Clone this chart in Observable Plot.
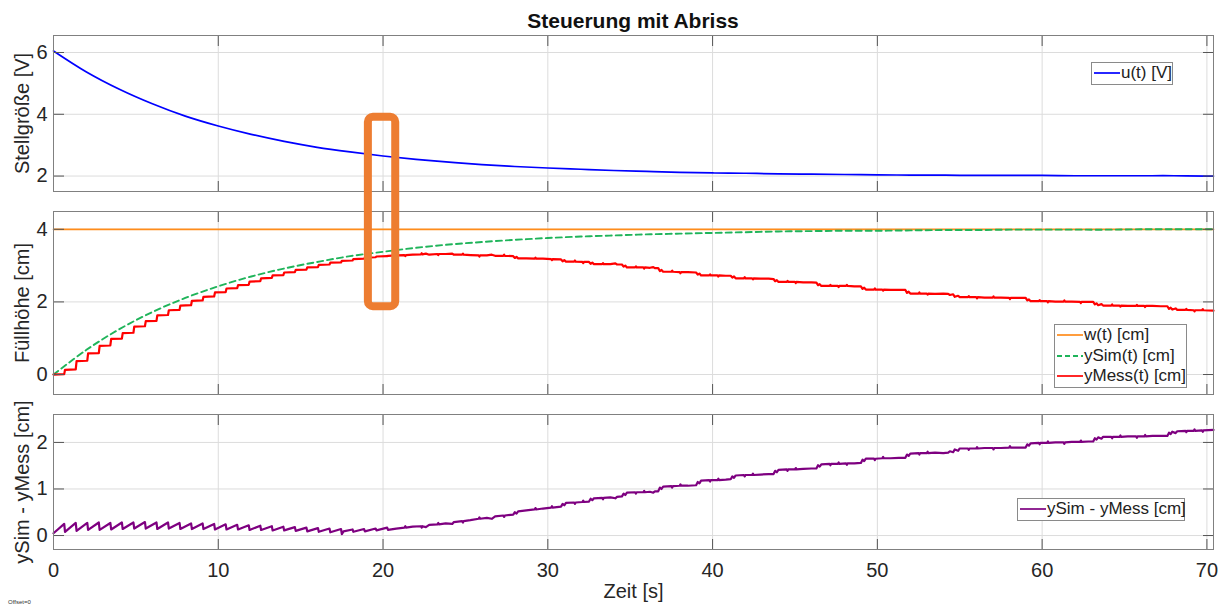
<!DOCTYPE html>
<html><head><meta charset="utf-8">
<script src="https://cdn.jsdelivr.net/npm/d3@7"></script>
<script src="https://cdn.jsdelivr.net/npm/@observablehq/plot@0.6"></script>
<style>
body{margin:0;background:#fff;font-family:"Liberation Sans",Arial,Helvetica,sans-serif;color:#262626}
#root{position:relative;width:1222px;height:608px;overflow:hidden;background:#fff}
.panel{position:absolute;left:0}
#title{position:absolute;left:53px;width:1160px;top:9px;text-align:center;font-weight:bold;font-size:21px;line-height:24px;color:#111}
#offset{position:absolute;left:8px;top:599px;font-size:6px;color:#333}
.legend{position:absolute;background:#fff;border:1px solid #8a8a8a;font-size:17px;line-height:20px;color:#222;z-index:5;box-sizing:border-box;padding:0 2px}
.legend .row{display:flex;align-items:center;white-space:nowrap;height:20.5px}
.legend svg{flex:none;margin-right:1px}
</style>
</head><body>
<div id="root">
  <div id="title">Steuerung mit Abriss</div>
  <div id="offset">Offset=0</div>
</div>
<script>
// ---------- data ----------
const xTicks = [0, 10, 20, 30, 40, 50, 60, 70];
const uTicks = [2, 4, 6];
const hTicks = [0, 2, 4];
const dTicks = [0, 1, 2];

const simTime = [0,2,4,6,8,10,12,14,16,18,20,22,24,26,28,30,32,34,36,38,40,42,44,46,48,50,52,54,56,58,60,62,64,66,68,70,70.4];
const uVals = [6.05,5.37,4.81,4.34,3.94,3.62,3.35,3.12,2.93,2.78,2.65,2.54,2.45,2.37,2.31,2.26,2.22,2.18,2.15,2.12,2.10,2.09,2.07,2.06,2.05,2.04,2.03,2.03,2.02,2.02,2.02,2.01,2.01,2.01,2.01,2.00,2.00];
const ySimVals = [0,0.68,1.25,1.72,2.11,2.43,2.70,2.92,3.10,3.26,3.38,3.49,3.58,3.65,3.71,3.76,3.80,3.83,3.86,3.88,3.90,3.92,3.94,3.95,3.96,3.96,3.97,3.98,3.98,3.99,3.99,3.99,3.99,4.00,4.00,4.00,4.00];
const wTime = [0, 70.4];
const wVals = [4, 4];

// measured level yMess(t) [t, cm]
const yMess = [[0,0.00],[0.65,0.01],[0.7,0.13],[1.35,0.14],[1.4,0.37],[2.05,0.38],[2.1,0.58],[2.75,0.59],[2.8,0.79],[3.45,0.80],[3.5,0.98],[4.15,0.99],[4.2,1.14],[4.85,1.15],[4.9,1.32],[5.55,1.33],[5.6,1.47],[6.25,1.48],[6.3,1.63],[6.95,1.64],[7.0,1.77],[7.65,1.78],[7.7,1.90],[8.35,1.91],[8.4,2.03],[9.05,2.04],[9.1,2.14],[9.75,2.15],[9.8,2.26],[10.45,2.27],[10.5,2.37],[11.15,2.38],[11.2,2.46],[11.85,2.47],[11.9,2.56],[12.55,2.57],[12.6,2.65],[13.25,2.66],[13.3,2.73],[13.95,2.74],[14.0,2.81],[14.65,2.82],[14.7,2.88],[15.35,2.89],[15.4,2.95],[16.05,2.96],[16.1,3.02],[16.75,3.03],[16.8,3.08],[17.45,3.09],[17.5,3.13],[18.15,3.14],[18.2,3.18],[18.85,3.19],[18.9,3.22],[19.55,3.23],[19.6,3.25],[20.25,3.26],[20.3,3.27],
[20.8,3.28],[21.3,3.29],[21.8,3.30],[22.3,3.31],[22.6,3.33],[22.8,3.30],[23.3,3.32],[23.8,3.32],[24.2,3.33],[24.3,3.30],[24.8,3.30],[25.3,3.29],[25.8,3.28],[26.3,3.28],[26.6,3.30],[26.8,3.27],[27.3,3.27],[27.9,3.26],[28.0,3.21],[28.1,3.24],[28.2,3.20],[28.7,3.20],[29.2,3.19],[29.7,3.19],[30.2,3.18],[30.8,3.17],[30.9,3.12],[31.0,3.15],[31.1,3.11],[31.6,3.11],[32.1,3.10],[32.5,3.10],[32.6,3.05],[32.7,3.08],[32.8,3.04],[33.3,3.04],[33.8,3.04],[34.1,3.06],[34.2,3.03],[34.5,3.03],[34.6,2.97],[34.7,3.00],[34.8,2.95],[35.3,2.95],[35.8,2.95],[36.2,2.94],[36.4,2.96],[36.5,2.93],[36.7,2.93],[36.8,2.85],[36.9,2.88],[37.0,2.83],[37.5,2.83],[38.0,2.82],[38.5,2.82],[39.0,2.81],[39.1,2.75],[39.2,2.78],[39.3,2.73],[39.8,2.73],[40.3,2.73],[40.8,2.72],[41.1,2.72],[41.2,2.67],[41.3,2.70],[41.4,2.65],[41.9,2.65],[42.4,2.65],[42.9,2.64],[43.4,2.64],[43.7,2.63],[43.8,2.57],[43.9,2.60],[44.0,2.55],[44.5,2.55],[45.0,2.55],[45.5,2.54],[46.0,2.54],[46.3,2.53],[46.4,2.46],[46.5,2.49],[46.6,2.44],[47.1,2.44],[47.6,2.44],[48.1,2.44],[48.6,2.43],[49.0,2.43],[49.1,2.36],[49.2,2.39],[49.3,2.34],[49.8,2.34],[50.3,2.34],[50.8,2.33],[51.3,2.33],[51.7,2.33],[51.8,2.25],[51.9,2.28],[52.0,2.23],[52.5,2.23],[53.0,2.23],[53.5,2.22],[54.0,2.23],[54.3,2.22],[54.4,2.19],[54.6,2.21],[54.7,2.14],[54.9,2.17],[55.0,2.13],[55.5,2.13],[56.0,2.13],[56.5,2.12],[57.0,2.12],[57.5,2.12],[58.0,2.11],[58.5,2.11],[59.0,2.11],[59.1,2.04],[59.2,2.07],[59.3,2.02],[59.8,2.02],[60.3,2.02],[60.8,2.01],[61.3,2.01],[61.8,2.01],[62.3,2.00],[62.8,2.00],[63.1,2.00],[63.2,1.93],[63.3,1.96],[63.4,1.91],[63.6,1.94],[63.7,1.90],[64.2,1.90],[64.7,1.90],[65.2,1.89],[65.7,1.89],[66.2,1.89],[66.7,1.89],[67.2,1.88],[67.6,1.88],[67.7,1.81],[67.8,1.84],[67.9,1.79],[68.1,1.82],[68.2,1.78],[68.7,1.78],[69.2,1.77],[69.7,1.77],[70.4,1.76]];
// single-sample glitches in yMess: [t, glitch value, value right after]
const yMessSpikes = [[21.35,3.26,3.29],[22.35,3.34,3.31],[23.35,3.29,3.32],[24.85,3.33,3.30],[25.85,3.25,3.28],[27.35,3.30,3.27],[29.25,3.22,3.19],[30.25,3.15,3.18],[31.65,3.14,3.11],[32.15,3.07,3.10],[33.35,3.07,3.04],[35.35,2.98,2.95],[35.85,2.92,2.95],[37.55,2.86,2.83],[38.05,2.79,2.82],[39.85,2.76,2.73],[40.35,2.70,2.73],[41.95,2.68,2.65],[42.45,2.62,2.65],[44.55,2.58,2.55],[45.05,2.52,2.55],[47.15,2.47,2.44],[47.65,2.41,2.44],[48.15,2.47,2.44],[49.85,2.37,2.34],[50.35,2.31,2.34],[52.55,2.26,2.23],[53.05,2.20,2.23],[55.55,2.16,2.13],[56.05,2.10,2.13],[57.05,2.15,2.12],[58.05,2.08,2.11],[59.85,2.05,2.02],[60.35,1.99,2.02],[61.35,2.04,2.01],[62.35,1.97,2.00],[64.25,1.93,1.90],[64.75,1.87,1.90],[65.75,1.92,1.89],[66.25,1.86,1.89],[68.75,1.81,1.78],[69.25,1.74,1.77],[69.75,1.80,1.77]];

// difference ySim - yMess [t, cm]
const yDiff = [[0,0.05],[0.65,0.25],[0.7,0.08],[1.35,0.27],[1.4,0.10],[2.05,0.27],[2.1,0.12],[2.75,0.28],[2.8,0.12],[3.45,0.27],[3.5,0.13],[4.15,0.28],[4.2,0.14],[4.85,0.28],[4.9,0.15],[5.55,0.29],[5.6,0.15],[6.25,0.28],[6.3,0.14],[6.95,0.28],[7.0,0.15],[7.65,0.27],[7.7,0.14],[8.35,0.26],[8.4,0.14],[9.05,0.26],[9.1,0.14],[9.75,0.25],[9.8,0.13],[10.45,0.24],[10.5,0.13],[11.15,0.23],[11.2,0.13],[11.85,0.22],[11.9,0.12],[12.55,0.21],[12.6,0.12],[13.25,0.20],[13.3,0.11],[13.95,0.19],[14.0,0.11],[14.65,0.18],[14.7,0.10],[15.35,0.17],[15.4,0.09],[16.05,0.16],[16.1,0.08],[16.75,0.15],[16.8,0.07],[17.45,0.14],[17.5,0.03],[17.6,0.09],[18.15,0.13],[18.2,0.08],[18.85,0.14],[18.9,0.09],[19.55,0.15],[19.6,0.11],[20.25,0.17],[20.3,0.12],
[20.8,0.15],[21.3,0.17],[21.8,0.19],[22.3,0.20],[22.6,0.18],[22.8,0.23],[23.3,0.24],[23.8,0.26],[24.2,0.25],[24.3,0.29],[24.8,0.31],[25.3,0.33],[25.8,0.36],[26.3,0.38],[26.6,0.36],[26.8,0.41],[27.3,0.43],[27.9,0.45],[28.0,0.50],[28.1,0.47],[28.2,0.52],[28.7,0.54],[29.2,0.56],[29.7,0.58],[30.2,0.60],[30.8,0.62],[30.9,0.68],[31.0,0.65],[31.1,0.70],[31.6,0.71],[32.1,0.72],[32.5,0.73],[32.6,0.79],[32.7,0.76],[32.8,0.80],[33.3,0.81],[33.8,0.82],[34.1,0.80],[34.2,0.83],[34.5,0.84],[34.6,0.90],[34.7,0.87],[34.8,0.92],[35.3,0.93],[35.8,0.93],[36.2,0.94],[36.4,0.92],[36.5,0.95],[36.7,0.95],[36.8,1.03],[36.9,1.00],[37.0,1.05],[37.5,1.06],[38.0,1.07],[38.5,1.07],[39.0,1.08],[39.1,1.15],[39.2,1.12],[39.3,1.18],[39.8,1.19],[40.3,1.19],[40.8,1.20],[41.1,1.21],[41.2,1.27],[41.3,1.24],[41.4,1.29],[41.9,1.30],[42.4,1.30],[42.9,1.31],[43.4,1.32],[43.7,1.32],[43.8,1.39],[43.9,1.36],[44.0,1.41],[44.5,1.42],[45.0,1.42],[45.5,1.43],[46.0,1.44],[46.3,1.44],[46.4,1.51],[46.5,1.48],[46.6,1.53],[47.1,1.54],[47.6,1.54],[48.1,1.55],[48.6,1.55],[49.0,1.56],[49.1,1.63],[49.2,1.60],[49.3,1.65],[49.8,1.65],[50.3,1.66],[50.8,1.66],[51.3,1.67],[51.7,1.67],[51.8,1.74],[51.9,1.71],[52.0,1.76],[52.5,1.77],[53.0,1.77],[53.5,1.78],[54.0,1.77],[54.3,1.78],[54.4,1.81],[54.6,1.79],[54.7,1.85],[54.9,1.82],[55.0,1.87],[55.5,1.87],[56.0,1.87],[56.5,1.88],[57.0,1.88],[57.5,1.88],[58.0,1.89],[58.5,1.89],[59.0,1.89],[59.1,1.96],[59.2,1.93],[59.3,1.98],[59.8,1.99],[60.3,1.99],[60.8,2.00],[61.3,2.00],[61.8,2.01],[62.3,2.01],[62.8,2.02],[63.1,2.02],[63.2,2.09],[63.3,2.06],[63.4,2.11],[63.6,2.08],[63.7,2.12],[64.2,2.12],[64.7,2.12],[65.2,2.13],[65.7,2.13],[66.2,2.13],[66.7,2.14],[67.2,2.14],[67.6,2.14],[67.7,2.21],[67.8,2.18],[67.9,2.23],[68.1,2.20],[68.2,2.24],[68.7,2.25],[69.2,2.25],[69.7,2.26],[70.4,2.27]];
// single-sample glitches in the difference: [t, glitch value, value right after]
const yDiffSpikes = [[21.35,0.20,0.17],[22.35,0.17,0.20],[23.35,0.27,0.24],[24.85,0.28,0.31],[25.85,0.39,0.36],[27.35,0.40,0.43],[29.25,0.59,0.56],[30.25,0.63,0.60],[31.65,0.68,0.71],[32.15,0.75,0.72],[33.35,0.78,0.81],[35.35,0.90,0.93],[35.85,0.96,0.93],[37.55,1.03,1.06],[38.05,1.10,1.07],[39.85,1.16,1.19],[40.35,1.22,1.19],[41.95,1.27,1.30],[42.45,1.33,1.30],[44.55,1.39,1.42],[45.05,1.45,1.42],[47.15,1.51,1.54],[47.65,1.57,1.54],[48.15,1.52,1.55],[49.85,1.62,1.65],[50.35,1.69,1.66],[52.55,1.74,1.77],[53.05,1.80,1.77],[55.55,1.84,1.87],[56.05,1.90,1.87],[57.05,1.85,1.88],[58.05,1.92,1.89],[59.85,1.96,1.99],[60.35,2.02,1.99],[61.35,1.97,2.00],[62.35,2.04,2.01],[64.25,2.09,2.12],[64.75,2.15,2.12],[65.75,2.10,2.13],[66.25,2.16,2.13],[68.75,2.22,2.25],[69.25,2.28,2.25],[69.75,2.23,2.26]];

// highlighted time window (annotation), y in panel-1 units spanning into panel 2
const highlight = [{t1: 19.11, t2: 20.77, v1: -2.23, v2: 3.90}];

// ---------- drawing ----------
const FONT = "Liberation Sans, Arial, Helvetica, sans-serif";
const C = {u: "#0000ff", w: "#ff8c1a", sim: "#1fb45a", mess: "#ff0000", diff: "#7e0080", hl: "#ed7d31", text: "#262626"};
const sim = simTime.map((t, i) => ({t, u: uVals[i], ySim: ySimVals[i]}));
const wData = wTime.map((t, i) => ({t, w: wVals[i]}));
const withSpikes = (base, spikes) => d3.sort(base.concat(spikes.flatMap(([t, v, b]) => [[t, v], [t + 0.04, b]])), d => d[0]);
const messData = withSpikes(yMess, yMessSpikes);
const diffData = withSpikes(yDiff, yDiffSpikes);
const root = document.getElementById("root");

function panel({top, height, marginBottom, yDomain, yTicks, yLabel, marks, showX, z}) {
  const svg = Plot.plot({
    width: 1222, height, marginLeft: 53, marginRight: 9, marginTop: 10, marginBottom,
    x: {domain: [0, 70.4]}, y: {domain: yDomain},
    style: {fontFamily: FONT, fontSize: "20px", color: C.text, overflow: "visible", background: "transparent"},
    marks: [
      Plot.gridX(xTicks, {stroke: "#dcdcdc", strokeOpacity: 1}),
      Plot.gridY(yTicks, {stroke: "#dcdcdc", strokeOpacity: 1}),
      ...marks.base,
      Plot.axisY(yTicks, {anchor: "left", tickSize: 0, tickPadding: 6, label: null, fill: C.text, fontSize: 20}),
      Plot.axisY(yTicks, {anchor: "left", tickSize: 11, dx: 11, fill: "none", label: null, stroke: "#555"}),
      Plot.axisY(yTicks, {anchor: "right", tickSize: 11, dx: -11, fill: "none", label: null, stroke: "#555"}),
      Plot.axisX(xTicks, {anchor: "bottom", tickSize: 10, dy: -10, fill: "none", label: null, stroke: "#555"}),
      Plot.axisX(xTicks, {anchor: "top", tickSize: 10, dy: 10, fill: "none", label: null, stroke: "#555"}),
      showX ? Plot.axisX(xTicks, {anchor: "bottom", tickSize: 0, tickPadding: 13, label: null, fill: C.text, fontSize: 20}) : null,
      showX ? Plot.text(["Zeit [s]"], {text: d => d, frameAnchor: "bottom", textAnchor: "middle", dy: 48, fontSize: 20, fill: C.text}) : null,
      Plot.frame({stroke: "#808080"}),
      Plot.text([yLabel], {text: d => d, frameAnchor: "left", textAnchor: "middle", lineAnchor: "middle", rotate: -90, dx: -31, fontSize: 20, fill: C.text}),
      ...(marks.top || [])
    ]
  });
  const div = document.createElement("div");
  div.className = "panel";
  div.style.top = top + "px";
  div.style.zIndex = z;
  div.appendChild(svg);
  root.appendChild(div);
}

panel({
  top: 25, height: 170, marginBottom: 4, yDomain: [1.5, 6.55], yTicks: uTicks, yLabel: "Stellgröße [V]", z: 3,
  marks: {
    base: [Plot.line(sim, {x: "t", y: "u", stroke: C.u, strokeWidth: 1.7, curve: "catmull-rom"})],
    top: [Plot.rect(highlight, {x1: "t1", x2: "t2", y1: "v1", y2: "v2", fill: "none", stroke: C.hl, strokeWidth: 8, rx: 5, clip: false})]
  }
});

panel({
  top: 201, height: 197, marginBottom: 4, yDomain: [-0.55, 4.49], yTicks: hTicks, yLabel: "Füllhöhe [cm]", z: 2,
  marks: {
    base: [
      Plot.line(wData, {x: "t", y: "w", stroke: C.w, strokeWidth: 1.7}),
      Plot.line(sim, {x: "t", y: "ySim", stroke: C.sim, strokeWidth: 1.9, strokeDasharray: "6,4", curve: "catmull-rom"}),
      Plot.line(messData, {x: d => d[0], y: d => d[1], stroke: C.mess, strokeWidth: 2.2})
    ]
  }
});

panel({
  top: 404, height: 201, marginBottom: 56, yDomain: [-0.3, 2.6], yTicks: dTicks, yLabel: "ySim - yMess [cm]", showX: true, z: 1,
  marks: {
    base: [Plot.line(diffData, {x: d => d[0], y: d => d[1], stroke: C.diff, strokeWidth: 2.2})]
  }
});

// ---------- legends ----------
function legend(items, left, top, width) {
  const box = document.createElement("div");
  box.className = "legend";
  Object.assign(box.style, {left: left + "px", top: top + "px", width: width + "px"});
  for (const it of items) {
    const row = document.createElement("div");
    row.className = "row";
    row.innerHTML = `<svg width="26" height="8"><line x1="0" x2="26" y1="4" y2="4" stroke="${it.color}" stroke-width="${it.width || 1.7}" ${it.dash ? `stroke-dasharray="${it.dash}"` : ""}/></svg><span>${it.label}</span>`;
    box.appendChild(row);
  }
  root.appendChild(box);
}
legend([{label: "u(t) [V]", color: C.u}], 1091, 62, 82);
legend([
  {label: "w(t) [cm]", color: C.w},
  {label: "ySim(t) [cm]", color: C.sim, dash: "5,3", width: 1.9},
  {label: "yMess(t) [cm]", color: C.mess}
], 1054, 324, 133);
legend([{label: "ySim - yMess [cm]", color: C.diff}], 1017, 498, 168);
</script>
</body></html>
